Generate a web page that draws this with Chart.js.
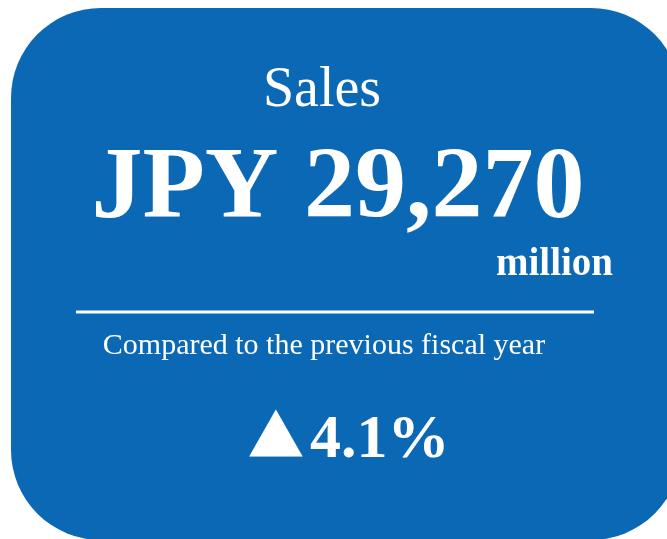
<!DOCTYPE html>
<html>
<head>
<meta charset="utf-8">
<script src="https://cdn.jsdelivr.net/npm/chart.js@4.4.1/dist/chart.umd.min.js"></script>
<style>
  html, body { margin: 0; padding: 0; background: #ffffff; }
  #wrap { width: 667px; height: 539px; position: relative; }
</style>
</head>
<body>
<div id="wrap"><canvas id="kpiCard" width="667" height="539"></canvas></div>
<script>
// KPI card values
const cardTitle = ["Sales"];
const salesValue = [29270];
const currencyLabel = ["JPY"];
const unitLabel = ["million"];
const compareLabel = ["Compared to the previous fiscal year"];
const changePct = [4.1];

const cardBlue = "#0b68b5";

// draw the rounded card + texts
const kpiCardPlugin = {
  id: "kpiCard",
  beforeDraw(chart) {
    const ctx = chart.ctx;
    ctx.save();
    ctx.fillStyle = "#ffffff";
    ctx.fillRect(0, 0, chart.width, chart.height);

    // card
    ctx.fillStyle = cardBlue;
    ctx.beginPath();
    ctx.roundRect(11, 8, 670, 532, 90);
    ctx.fill();

    ctx.fillStyle = "#ffffff";
    ctx.textBaseline = "alphabetic";

    // title
    ctx.textAlign = "center";
    ctx.font = "56px 'Liberation Serif', 'Times New Roman', serif";
    ctx.fillText(cardTitle[0], 322, 106);

    // big number
    ctx.font = "bold 102px 'Liberation Serif', 'Times New Roman', serif";
    ctx.fillText(`${currencyLabel[0]} ${salesValue[0].toLocaleString("en-US")}`, 338, 217);

    // unit
    ctx.textAlign = "right";
    ctx.font = "bold 39px 'Liberation Serif', 'Times New Roman', serif";
    ctx.fillText(unitLabel[0], 613, 275);

    // divider
    ctx.strokeStyle = "#ffffff";
    ctx.lineWidth = 3;
    ctx.beginPath();
    ctx.moveTo(76, 312);
    ctx.lineTo(594, 312);
    ctx.stroke();

    // comparison text
    ctx.textAlign = "center";
    ctx.font = "30px 'Liberation Serif', 'Times New Roman', serif";
    ctx.fillText(compareLabel[0], 324, 354);

    // change (triangle a bit squashed like the reference)
    ctx.textAlign = "left";
    ctx.save();
    ctx.translate(249, 449);
    ctx.scale(1, 0.88);
    ctx.font = "70px 'DejaVu Sans', sans-serif";
    ctx.fillText("\u25B2", 0, 0);
    ctx.restore();
    ctx.font = "bold 62px 'Liberation Serif', 'Times New Roman', serif";
    ctx.fillText(`${changePct[0].toFixed(1)}%`, 310, 457);

    ctx.restore();
  },
};

new Chart(document.getElementById("kpiCard"), {
  type: "bar",
  data: {
    labels: cardTitle,
    datasets: [{ label: cardTitle[0], data: salesValue, backgroundColor: "rgba(0,0,0,0)" }],
  },
  options: {
    responsive: false,
    animation: false,
    events: [],
    layout: { padding: 0 },
    scales: { x: { display: false }, y: { display: false } },
    plugins: { legend: { display: false }, tooltip: { enabled: false } },
  },
  plugins: [kpiCardPlugin],
});
</script>
</body>
</html>
